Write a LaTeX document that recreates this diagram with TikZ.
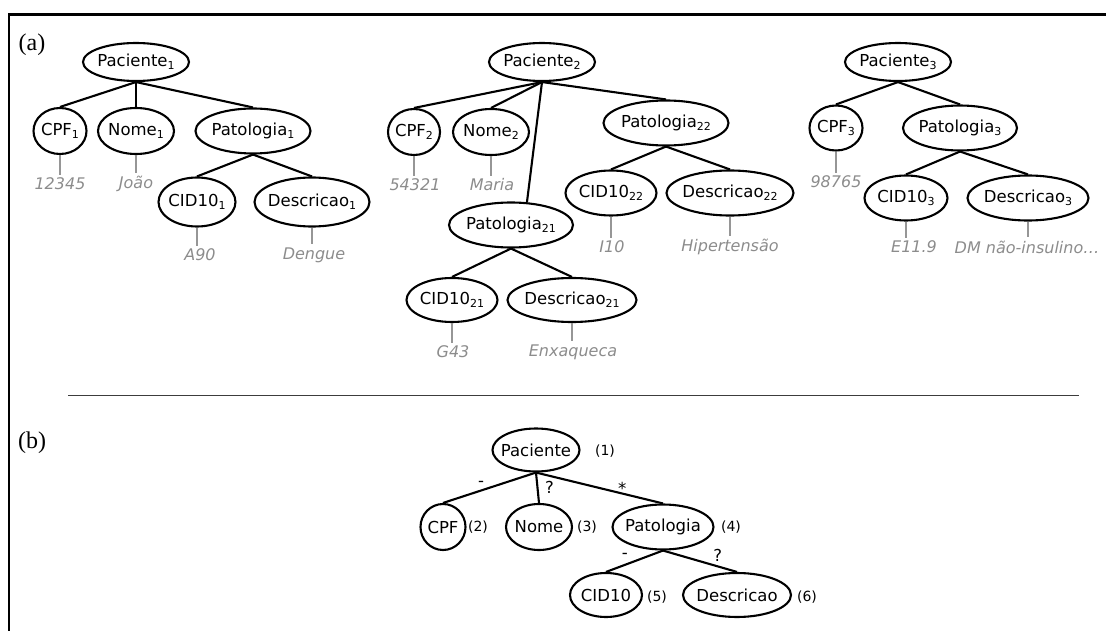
\documentclass[tikz,border=0pt]{standalone}
\usepackage{fontspec}
\setmainfont{DejaVu Sans}
\newfontfamily\tagfont{Liberation Serif}
\usetikzlibrary{shapes.geometric}

\definecolor{valgray}{RGB}{140,140,140}
\definecolor{linkgray}{RGB}{150,150,150}
\definecolor{rulegray}{RGB}{60,60,60}

% subscript index written below the baseline
\newcommand\sbs[1]{\raisebox{-3pt}{\fontsize{11}{11}\selectfont #1}}
% text that does not widen its ellipse
\newcommand\nt[1]{\makebox[0pt]{#1}}

\tikzset{
  el/.style={ellipse, draw, line width=2.1pt, inner sep=0pt,
             font=\fontsize{16.5}{19}\selectfont},
  edge/.style={line width=2.1pt},
  link/.style={draw=linkgray, line width=1.1pt},
  val/.style={text=valgray, inner sep=3pt,
              font=\fontsize{16}{19}\selectfont\itshape},
  num/.style={inner sep=0pt, font=\fontsize{14}{16}\selectfont},
  elab/.style={inner sep=0pt, font=\fontsize{16.5}{19}\selectfont},
  tag/.style={inner sep=0pt, font=\fontsize{24}{26}\selectfont\tagfont}
}

\begin{document}
\begin{tikzpicture}[x=1pt, y=-1pt]
\useasboundingbox (0,0) rectangle (1106,631);

% frame and separator
\draw[line width=2.6pt] (9,631) -- (9,14.5) -- (1106,14.5);
\draw[rulegray, line width=1.4pt] (68,395.5) -- (1079,395.5);

\node[tag] (ta) at (32,45) {(a)};
\node[tag] (tb) at (32,443) {(b)};

% ---------- patient 1 ----------
\node[el, minimum width=106pt, minimum height=38pt] (p1) at (136,62) {\nt{Paciente\sbs{1}}};
\node[el, minimum width=53pt, minimum height=46pt] (cpf1) at (60,131) {\nt{CPF\sbs{1}}};
\node[el, minimum width=76pt, minimum height=46pt] (nome1) at (136,131) {\nt{Nome\sbs{1}}};
\node[el, minimum width=115pt, minimum height=45pt] (pat1) at (253,131) {\nt{Patologia\sbs{1}}};
\node[el, minimum width=77pt, minimum height=49pt] (cid1) at (197,202) {\nt{CID10\sbs{1}}};
\node[el, minimum width=115pt, minimum height=49pt] (desc1) at (312,202) {\nt{Descricao\sbs{1}}};

\draw[edge] (p1.south) -- (cpf1.north);
\draw[edge] (p1.south) -- (nome1.north);
\draw[edge] (p1.south) -- (pat1.north);
\draw[edge] (pat1.south) -- (cid1.north);
\draw[edge] (pat1.south) -- (desc1.north);

\node[val] (v11) at (60,184) {12345};
\node[val] (v12) at (136,184) {João};
\node[val] (v13) at (200,255) {A90};
\node[val] (v14) at (314,255) {Dengue};
\draw[link] (cpf1.south) -- (v11.north);
\draw[link] (nome1.south) -- (v12.north);
\draw[link] (cid1.south) -- (cid1.south |- v13.north);
\draw[link] (desc1.south) -- (desc1.south |- v14.north);

% ---------- patient 2 ----------
\node[el, minimum width=106pt, minimum height=38pt] (p2) at (542,62) {\nt{Paciente\sbs{2}}};
\node[el, minimum width=52pt, minimum height=46pt] (cpf2) at (414,132) {\nt{CPF\sbs{2}}};
\node[el, minimum width=76pt, minimum height=46pt] (nome2) at (491,132) {\nt{Nome\sbs{2}}};
\node[el, minimum width=125pt, minimum height=45pt] (pat22) at (666,123) {\nt{Patologia\sbs{22}}};
\node[el, minimum width=124pt, minimum height=45pt] (pat21) at (511,225) {\nt{Patologia\sbs{21}}};
\node[el, minimum width=91pt, minimum height=45pt] (cid22) at (611,193) {\nt{CID10\sbs{22}}};
\node[el, minimum width=127pt, minimum height=45pt] (desc22) at (730,193) {\nt{Descricao\sbs{22}}};
\node[el, minimum width=91pt, minimum height=44pt] (cid21) at (452,300) {\nt{CID10\sbs{21}}};
\node[el, minimum width=129pt, minimum height=44pt] (desc21) at (572,300) {\nt{Descricao\sbs{21}}};

\draw[edge] (p2.south) -- (cpf2.north);
\draw[edge] (p2.south) -- (nome2.north);
\draw[edge] (p2.south) -- (pat21.55);
\draw[edge] (p2.south) -- (pat22.north);
\draw[edge] (pat22.south) -- (cid22.north);
\draw[edge] (pat22.south) -- (desc22.north);
\draw[edge] (pat21.south) -- (cid21.north);
\draw[edge] (pat21.south) -- (desc21.north);

\node[val] (v21) at (415,185) {54321};
\node[val] (v22) at (492,185) {Maria};
\node[val] (v23) at (612,247) {I10};
\node[val] (v24) at (730,247) {Hipertensão};
\node[val] (v25) at (453,352) {G43};
\node[val] (v26) at (573,352) {Enxaqueca};
\draw[link] (cpf2.south) -- (cpf2.south |- v21.north);
\draw[link] (nome2.south) -- (nome2.south |- v22.north);
\draw[link] (cid22.south) -- (cid22.south |- v23.north);
\draw[link] (desc22.south) -- (desc22.south |- v24.north);
\draw[link] (cid21.south) -- (cid21.south |- v25.north);
\draw[link] (desc21.south) -- (desc21.south |- v26.north);

% ---------- patient 3 ----------
\node[el, minimum width=106pt, minimum height=38pt] (p3) at (898,62) {\nt{Paciente\sbs{3}}};
\node[el, minimum width=53pt, minimum height=45pt] (cpf3) at (836,128) {\nt{CPF\sbs{3}}};
\node[el, minimum width=114pt, minimum height=45pt] (pat3) at (960,128) {\nt{Patologia\sbs{3}}};
\node[el, minimum width=83pt, minimum height=45pt] (cid3) at (906,198) {\nt{CID10\sbs{3}}};
\node[el, minimum width=121pt, minimum height=45pt] (desc3) at (1028,198) {\nt{Descricao\sbs{3}}};

\draw[edge] (p3.south) -- (cpf3.north);
\draw[edge] (p3.south) -- (pat3.north);
\draw[edge] (pat3.south) -- (cid3.north);
\draw[edge] (pat3.south) -- (desc3.north);

\node[val] (v31) at (836,182) {98765};
\node[val] (v32) at (914,247) {E11.9};
\node[val] (v33) at (1027,247) {DM não-insulino…};
\draw[link] (cpf3.south) -- (cpf3.south |- v31.north);
\draw[link] (cid3.south) -- (cid3.south |- v32.north);
\draw[link] (desc3.south) -- (desc3.south |- v33.north);

% ---------- schema ----------
\node[el, minimum width=87pt, minimum height=43pt] (pb) at (536,450) {\nt{Paciente}};
\node[el, minimum width=45pt, minimum height=46pt] (cpfb) at (443,527) {\nt{CPF}};
\node[el, minimum width=66pt, minimum height=46pt] (nomeb) at (539,527) {\nt{Nome}};
\node[el, minimum width=101pt, minimum height=45pt] (patb) at (663,527) {\nt{Patologia}};
\node[el, minimum width=72pt, minimum height=44pt] (cidb) at (606,595) {\nt{CID10}};
\node[el, minimum width=108pt, minimum height=44pt] (descb) at (737,595) {\nt{Descricao}};

\draw[edge] (pb.south) -- node[elab, pos=0.59, yshift=7pt] {-} (cpfb.north);
\draw[edge] (pb.south) -- node[elab, pos=0.5, xshift=12pt] {?} (nomeb.north);
\draw[edge] (pb.south) -- node[elab, pos=0.68, yshift=5pt] {*} (patb.north);
\draw[edge] (patb.south) -- node[elab, pos=0.67, yshift=9pt] {-} (cidb.north);
\draw[edge] (patb.south) -- node[elab, pos=0.74, yshift=11pt] {?} (descb.north);

\node[num] (n1) at (605,451) {(1)};
\node[num] (n2) at (478,527) {(2)};
\node[num] (n3) at (587,527) {(3)};
\node[num] (n4) at (731,527) {(4)};
\node[num] (n5) at (657,597) {(5)};
\node[num] (n6) at (807,597) {(6)};
\end{tikzpicture}
\end{document}
